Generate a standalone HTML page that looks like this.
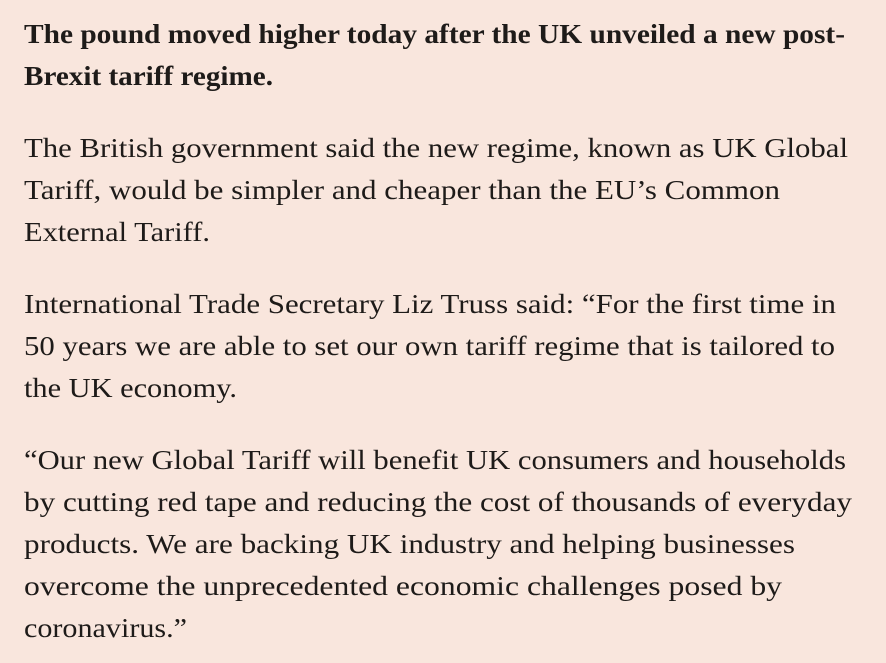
<!DOCTYPE html>
<html>
<head>
<meta charset="utf-8">
<style>
  html,body{margin:0;padding:0;background:#f9e6dd;}
  svg{display:block;}
  text{font-family:"Liberation Serif",serif;font-size:27px;fill:#1e1b19;}
  .b{font-weight:bold;}
</style>
</head>
<body>
<svg width="886" height="663" viewBox="0 0 886 663">
  <rect width="886" height="663" fill="#f9e6dd"/>
  <g>
    <text class="b" x="24" y="43" textLength="821" lengthAdjust="spacingAndGlyphs">The pound moved higher today after the UK unveiled a new post-</text>
    <text class="b" x="24" y="85" textLength="249" lengthAdjust="spacingAndGlyphs">Brexit tariff regime.</text>
  </g>
  <g>
    <text x="24" y="157" textLength="824" lengthAdjust="spacingAndGlyphs">The British government said the new regime, known as UK Global</text>
    <text x="24" y="199" textLength="756" lengthAdjust="spacingAndGlyphs">Tariff, would be simpler and cheaper than the EU’s Common</text>
    <text x="24" y="241" textLength="186" lengthAdjust="spacingAndGlyphs">External Tariff.</text>
  </g>
  <g>
    <text x="24" y="313" textLength="812" lengthAdjust="spacingAndGlyphs">International Trade Secretary Liz Truss said: “For the first time in</text>
    <text x="24" y="355" textLength="811" lengthAdjust="spacingAndGlyphs">50 years we are able to set our own tariff regime that is tailored to</text>
    <text x="24" y="397" textLength="213" lengthAdjust="spacingAndGlyphs">the UK economy.</text>
  </g>
  <g>
    <text x="24" y="469" textLength="822" lengthAdjust="spacingAndGlyphs">“Our new Global Tariff will benefit UK consumers and households</text>
    <text x="24" y="511" textLength="828" lengthAdjust="spacingAndGlyphs">by cutting red tape and reducing the cost of thousands of everyday</text>
    <text x="24" y="553" textLength="771" lengthAdjust="spacingAndGlyphs">products. We are backing UK industry and helping businesses</text>
    <text x="24" y="595" textLength="758" lengthAdjust="spacingAndGlyphs">overcome the unprecedented economic challenges posed by</text>
    <text x="24" y="637" textLength="163" lengthAdjust="spacingAndGlyphs">coronavirus.”</text>
  </g>
</svg>
</body>
</html>
